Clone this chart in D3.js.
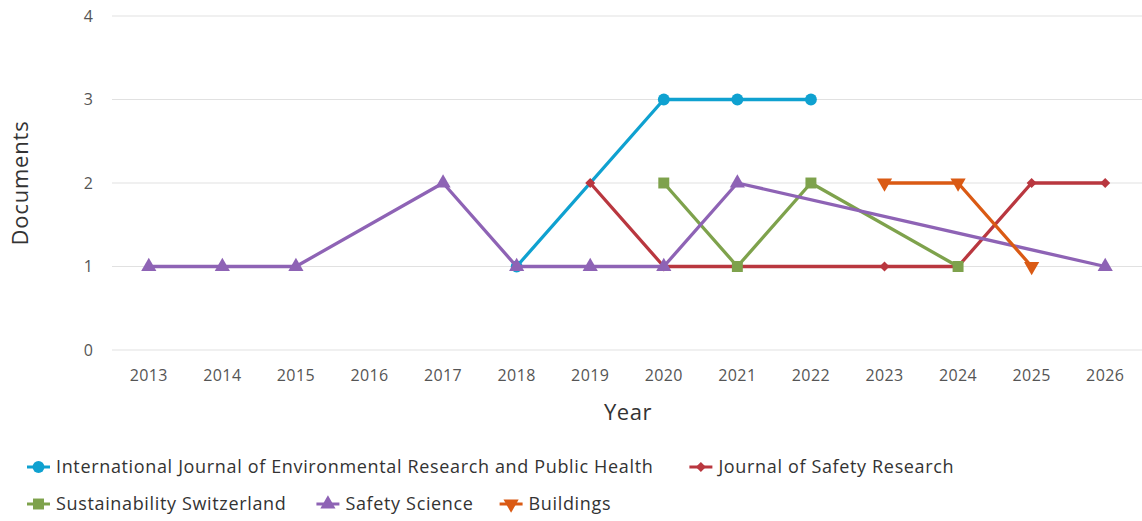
<!DOCTYPE html>
<html>
<head>
<meta charset="utf-8" />
<title>documents per year</title>
<script src="https://cdn.jsdelivr.net/npm/d3@7"></script>
<style>
  body { margin: 0; background: #fff; }
  text { font-family: "Open Sans", sans-serif; }
</style>
</head>
<body>
<svg width="1142" height="521"></svg>
<script>
  // data
  var years = [2013, 2014, 2015, 2016, 2017, 2018, 2019, 2020, 2021, 2022, 2023, 2024, 2025, 2026];
  var yTicks = [0, 1, 2, 3, 4];

  var ijerphYears = [2018, 2020, 2021, 2022];
  var ijerphDocs = [1, 3, 3, 3];
  var jsrYears = [2019, 2020, 2023, 2024, 2025, 2026];
  var jsrDocs = [2, 1, 1, 1, 2, 2];
  var sustYears = [2020, 2021, 2022, 2024];
  var sustDocs = [2, 1, 2, 1];
  var ssYears = [2013, 2014, 2015, 2017, 2018, 2019, 2020, 2021, 2026];
  var ssDocs = [1, 1, 1, 2, 1, 1, 1, 2, 1];
  var bldYears = [2023, 2024, 2025];
  var bldDocs = [2, 2, 1];

  var series = [
    {name: "International Journal of Environmental Research and Public Health", years: ijerphYears, docs: ijerphDocs, color: "#0fa1d0", symbol: d3.symbolCircle, size: 110},
    {name: "Journal of Safety Research", years: jsrYears, docs: jsrDocs, color: "#b9373f", symbol: d3.symbolSquare, size: 50, rot: 45},
    {name: "Sustainability Switzerland", years: sustYears, docs: sustDocs, color: "#7ea24c", symbol: d3.symbolSquare, size: 120},
    {name: "Safety Science", years: ssYears, docs: ssDocs, color: "#8e63b5", symbol: d3.symbolTriangle, size: 100, rot: 0},
    {name: "Buildings", years: bldYears, docs: bldDocs, color: "#da5a14", symbol: d3.symbolTriangle, size: 100, rot: 180}
  ];

  var svg = d3.select("svg");
  var x = d3.scaleBand().domain(years).range([112, 1142]);
  var y = d3.scaleLinear().domain([0, 4]).range([350, 16]);

  // grid
  svg.append("g").selectAll("line").data(yTicks).enter().append("line")
    .attr("x1", 112).attr("x2", 1142)
    .attr("y1", d => y(d)).attr("y2", d => y(d))
    .attr("stroke", "#e1e1e1").attr("stroke-width", 1);

  svg.append("g").selectAll("text").data(yTicks).enter().append("text")
    .attr("x", 93).attr("y", d => y(d)).attr("dy", "0.35em")
    .attr("text-anchor", "end").attr("fill", "#555").style("font-size", "16px")
    .text(d => d);

  svg.append("g").selectAll("text").data(years).enter().append("text")
    .attr("x", d => x(d) + x.bandwidth() / 2).attr("y", 381)
    .attr("text-anchor", "middle").attr("fill", "#555").style("font-size", "16px")
    .style("letter-spacing", "0.4px")
    .text(d => d);

  svg.append("text").attr("transform", "translate(28,183) rotate(-90)")
    .attr("text-anchor", "middle").attr("fill", "#333").style("font-size", "22px")
    .style("letter-spacing", "0.8px")
    .text("Documents");
  svg.append("text").attr("x", 628).attr("y", 420)
    .attr("text-anchor", "middle").attr("fill", "#333").style("font-size", "22px")
    .style("letter-spacing", "0.5px")
    .text("Year");

  var line = d3.line().x(d => x(d[0]) + x.bandwidth() / 2).y(d => y(d[1]));

  var gs = svg.append("g").selectAll("g").data(series).enter().append("g");
  gs.append("path")
    .attr("d", s => line(s.years.map((yr, i) => [yr, s.docs[i]])))
    .attr("fill", "none").attr("stroke", s => s.color).attr("stroke-width", 3.3)
    .attr("stroke-linejoin", "round");
  gs.each(function (s) {
    d3.select(this).selectAll("path.m").data(s.years.map((yr, i) => [yr, s.docs[i]])).enter()
      .append("path").attr("class", "m")
      .attr("d", d3.symbol().type(s.symbol).size(s.size))
      .attr("transform", d => "translate(" + (x(d[0]) + x.bandwidth() / 2) + "," + y(d[1]) + ") rotate(" + (s.rot || 0) + ")")
      .attr("fill", s.color);
  });

  // legend
  var rows = [[0, 1], [2, 3, 4]];
  var rowY = [467, 504];
  var gaps = [[36], [30, 26]];
  rows.forEach(function (idx, r) {
    var cx = 27;
    idx.forEach(function (i, k) {
      var s = series[i];
      var g = svg.append("g").attr("transform", "translate(" + cx + "," + rowY[r] + ")");
      g.append("line").attr("x1", 0).attr("x2", 23).attr("stroke", s.color).attr("stroke-width", 3);
      g.append("path").attr("d", d3.symbol().type(s.symbol).size(s.size))
        .attr("transform", "translate(11.5,0) rotate(" + (s.rot || 0) + ")").attr("fill", s.color);
      var t = g.append("text").attr("x", 29).attr("dy", "0.35em")
        .attr("fill", "#333").style("font-size", "18px").style("letter-spacing", "0.65px").text(s.name);
      cx += 29 + t.node().getComputedTextLength() + (gaps[r][k] || 30);
    });
  });
</script>
</body>
</html>
